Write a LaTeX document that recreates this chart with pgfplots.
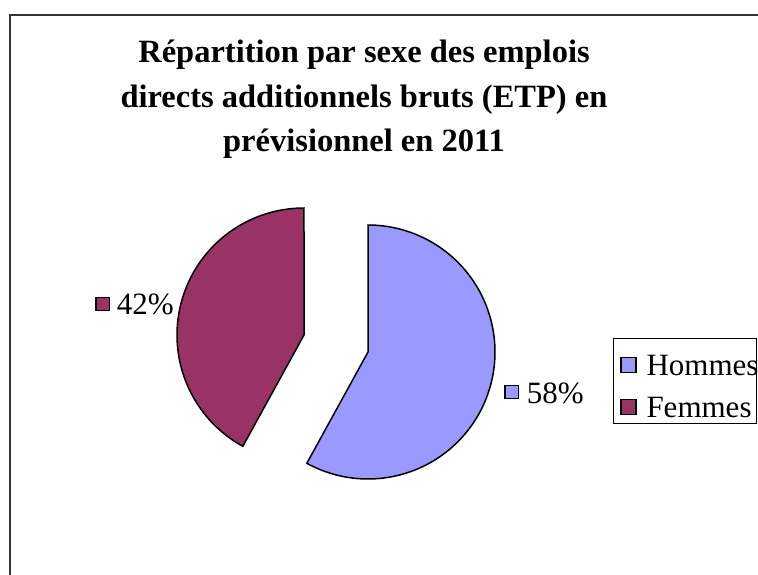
\documentclass[border=0pt]{standalone}
\usepackage{pgfplots}
\pgfplotsset{compat=1.18}
\usepackage{pgfplotstable}
\usepackage{fontspec}
\setmainfont{Liberation Serif}

\definecolor{hcol}{HTML}{9999FF}
\definecolor{fcol}{HTML}{993366}

\pgfplotstableread{
label value
Hommes 58
Femmes 42
}\piedata

\pgfplotstablegetelem{0}{value}\of\piedata \let\vH\pgfplotsretval
\pgfplotstablegetelem{1}{value}\of\piedata \let\vF\pgfplotsretval
\pgfmathsetmacro\aH{\vH/(\vH+\vF)*360}

\setlength\fboxsep{0pt}
\setlength\fboxrule{1.3pt}
\newcommand\keybox[1]{\raisebox{5pt}{\fcolorbox{black}{#1}{\rule{0pt}{12pt}\hspace{12pt}}}}

\begin{document}
\begin{tikzpicture}[x=1pt,y=1pt]
\path[use as bounding box] (0,0) rectangle (758,574);
\clip (0,0) rectangle (758,574);
\draw[line width=2pt, black!80] (10,-20) rectangle (800,559);
\begin{axis}[
  at={(0,0)}, anchor=south west,
  x=1pt, y=1pt,
  xmin=0, xmax=758, ymin=0, ymax=574,
  hide axis, clip=false,
  title={Répartition par sexe des emplois\\directs additionnels bruts (ETP) en\\prévisionnel en 2011},
  title style={at={(axis cs:364,416)}, anchor=base, align=center,
    font=\bfseries\fontsize{32.5}{44.5}\selectfont},
  legend image code/.code={\draw[#1, line width=1.3pt] (0pt,-5pt) rectangle (15pt,10pt);},
  legend style={at={(axis cs:620,224)}, anchor=north west, draw=none, fill=none,
    font=\fontsize{31}{36}\selectfont, cells={anchor=west},
    nodes={text height=22pt, text depth=7pt, inner sep=3pt},
    row sep=7pt, column sep=7pt, inner sep=0pt},
  ]
% Hommes (exploded to the right)
\addplot[fill=hcol, draw=black, line width=1.5pt, domain=0:\aH, samples=120, variable=\t]
  ({368+127*sin(\t)}, {222+127*cos(\t)}) -- (axis cs:368,222) -- cycle;
% Femmes (exploded to the left)
\addplot[fill=fcol, draw=black, line width=1.5pt, domain=\aH:360, samples=90, variable=\t]
  ({304+127*sin(\t)}, {239+127*cos(\t)}) -- (axis cs:304,239) -- cycle;
\legend{Hommes,Femmes}
\draw[line width=1pt] (axis cs:613,235) rectangle (axis cs:756,151);
\node[anchor=base west, inner sep=0pt, font=\fontsize{31}{36}\selectfont]
  at (axis cs:504,171) {\keybox{hcol}\hspace{8pt}\vH\%};
\node[anchor=base west, inner sep=0pt, font=\fontsize{31}{36}\selectfont]
  at (axis cs:95,259) {\keybox{fcol}\hspace{7pt}\vF\%};
\end{axis}
\end{tikzpicture}
\end{document}
